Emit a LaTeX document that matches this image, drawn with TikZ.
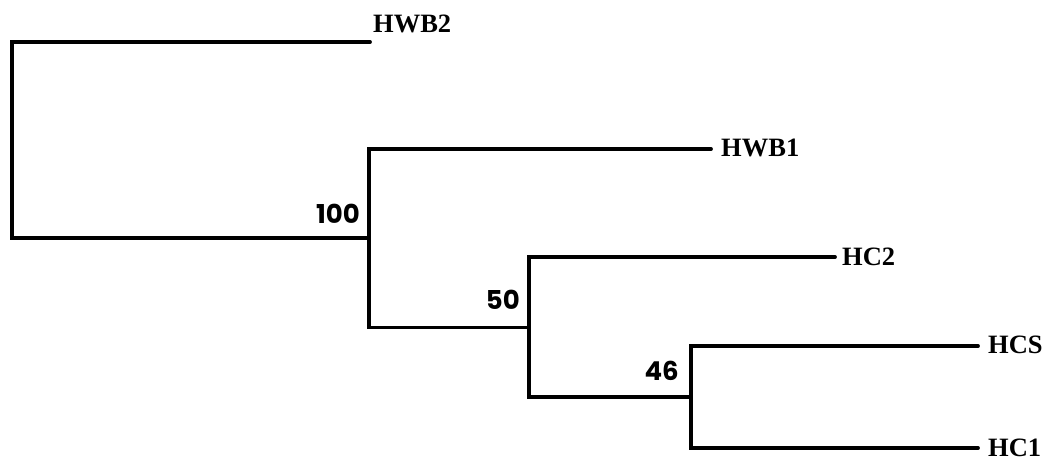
\documentclass[tikz,border=0pt]{standalone}
\usepackage{fontspec}
\setmainfont{Liberation Serif}
\newfontfamily\numfont{Poppins}
\begin{document}
\begin{tikzpicture}[x=1pt,y=-1pt,
  branch/.style={line width=3.8pt,line cap=round,line join=miter},
  leaf/.style={anchor=west,inner sep=0pt,font=\fontsize{26.5}{28}\selectfont\bfseries},
  boot/.style={anchor=south east,inner sep=0pt,font=\numfont\fontsize{26}{28}\selectfont\bfseries}]
\useasboundingbox (0,0) rectangle (1046,464);
% internal nodes
\coordinate (r) at (12,140);
\coordinate (n100) at (369,238);
\coordinate (n50) at (529,327.5);
\coordinate (n46) at (691,397);
% leaf ends
\coordinate (e-hwb2) at (370,42);
\coordinate (e-hwb1) at (711,149);
\coordinate (e-hc2) at (835,257);
\coordinate (e-hcs) at (978,346);
\coordinate (e-hc1) at (978,448);
% branches
\draw[branch] (e-hwb2) -| (r) |- (n100);
\draw[branch] (e-hwb1) -| (n100) |- (n50);
\draw[branch] (e-hc2) -| (n50) |- (n46);
\draw[branch] (e-hcs) -| (n46) |- (e-hc1);
% leaf labels
\node[leaf] (l-hwb2) at (373,23.5) {HWB2};
\node[leaf] (l-hwb1) at (721,148) {HWB1};
\node[leaf] (l-hc2) at (842,257) {HC2};
\node[leaf] (l-hcs) at (988,345) {HCS};
\node[leaf] (l-hc1) at (988,448) {HC1};
% bootstrap values
\node[boot] (b100) at ([shift={(-9,-14)}]n100) {100};
\node[boot] (b50) at ([shift={(-9,-18)}]n50) {50};
\node[boot] (b46) at ([shift={(-12,-16)}]n46) {46};
\end{tikzpicture}
\end{document}
